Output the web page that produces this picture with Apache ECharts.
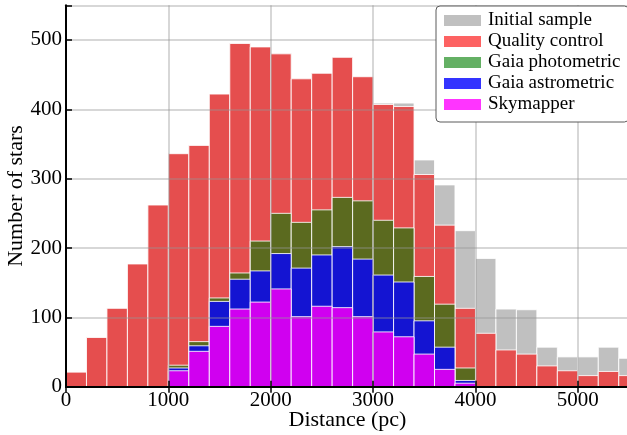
<!DOCTYPE html>
<html>
<head>
<meta charset="utf-8">
<script src="https://cdn.jsdelivr.net/npm/echarts@6/dist/echarts.min.js"></script>
<style>
  html, body { margin: 0; padding: 0; background: #fff; }
  #chart { width: 627px; height: 435px; }
</style>
</head>
<body>
<div id="chart"></div>
<script>
// Histogram bins: left edges (pc), all 200 pc wide
const binStart = [0, 200, 400, 600, 800, 1000, 1200, 1400, 1600, 1800,
                  2000, 2200, 2400, 2600, 2800, 3000, 3200, 3400, 3600, 3800,
                  4000, 4200, 4400, 4600, 4800, 5000, 5200, 5400];
const binWidth = 200;

// Star counts per bin for each selection stage
const initialSample = [21, 71, 113, 177, 262, 336, 348, 422, 495, 490,
                       480, 444, 452, 475, 447, 409, 409, 327, 291, 225,
                       185, 112, 111, 57, 43, 43, 57, 41];
const qualityControl = [21, 71, 113, 177, 262, 336, 348, 422, 495, 490,
                        480, 444, 452, 475, 447, 407, 404, 306, 233, 113,
                        77, 53, 47, 30, 23, 16, 22, 16];
const gaiaPhotometric = [0, 0, 0, 0, 0, 31, 65, 128, 164, 210,
                         250, 237, 255, 273, 268, 240, 229, 159, 119, 27,
                         0, 0, 0, 0, 0, 0, 0, 0];
const gaiaAstrometric = [0, 0, 0, 0, 0, 27, 59, 123, 155, 167,
                         192, 171, 190, 202, 184, 161, 151, 95, 57, 9,
                         0, 0, 0, 0, 0, 0, 0, 0];
const skymapper = [0, 0, 0, 0, 0, 23, 51, 87, 112, 122,
                   141, 101, 116, 114, 101, 79, 72, 47, 25, 5,
                   0, 0, 0, 0, 0, 0, 0, 0];

const xTicks = [0, 1000, 2000, 3000, 4000, 5000];
const yTicks = [0, 100, 200, 300, 400, 500];

const serif = "'Liberation Serif', 'Times New Roman', serif";

function toBins(counts) {
  const out = [];
  counts.forEach((c, i) => {
    if (c > 0) out.push([binStart[i], binStart[i] + binWidth, c]);
  });
  return out;
}

function renderBar(params, api) {
  const top = api.coord([api.value(0), api.value(2)]);
  const bottom = api.coord([api.value(1), 0]);
  return {
    type: 'rect',
    shape: { x: top[0], y: top[1], width: bottom[0] - top[0], height: bottom[1] - top[1] },
    style: { fill: api.visual('color'), stroke: 'rgba(255,255,255,0.85)', lineWidth: 1 }
  };
}

const stages = [
  { name: 'Initial sample',   values: initialSample,   bar: '#c0c0c0', key: '#c0c0c0' },
  { name: 'Quality control',  values: qualityControl,  bar: '#e54e4e', key: '#fd6262' },
  { name: 'Gaia photometric', values: gaiaPhotometric, bar: '#5b6a1f', key: '#64b064' },
  { name: 'Gaia astrometric', values: gaiaAstrometric, bar: '#1414d2', key: '#3434ff' },
  { name: 'Skymapper',        values: skymapper,       bar: '#d000f0', key: '#ff34ff' }
];

const chart = echarts.init(document.getElementById('chart'), null, { renderer: 'canvas' });

const gridColor = 'rgba(150,150,150,0.5)';

chart.setOption({
  animation: false,
  backgroundColor: '#fff',
  grid: { left: 66, top: 5.3, width: 563, height: 381.4, containLabel: false, outerBoundsMode: 'none' },
  xAxis: [
    {
      type: 'value', min: 0, max: 5500, interval: 1000, z: 5,
      name: 'Distance (pc)', nameLocation: 'middle', nameGap: 23, nameMoveOverlap: false,
      nameTextStyle: { fontFamily: serif, fontSize: 22, color: '#000' },
      axisLine: { show: true, onZero: false, lineStyle: { color: '#000', width: 2 } },
      axisTick: { show: true, inside: true, length: 6, lineStyle: { color: '#000', width: 1.5 } },
      axisLabel: {
        fontFamily: serif, fontSize: 21, color: '#000', margin: 3,
        formatter: v => (xTicks.includes(v) ? String(v) : '')
      },
      splitLine: { show: true, lineStyle: { color: gridColor, width: 1.5 } }
    },
    {
      type: 'value', position: 'top', min: 0, max: 5500, interval: 1000, z: 5,
      axisLine: { show: true, lineStyle: { color: '#000', width: 2 } },
      axisTick: { show: true, inside: true, length: 6, lineStyle: { color: '#000', width: 1.5 } },
      axisLabel: { show: false },
      splitLine: { show: false }
    }
  ],
  yAxis: {
    type: 'value', min: 0, max: 550, interval: 100, z: 5,
    name: 'Number of stars', nameLocation: 'middle', nameGap: 39, nameMoveOverlap: false,
    nameTextStyle: { fontFamily: serif, fontSize: 22, color: '#000' },
    axisLine: { show: true, lineStyle: { color: '#000', width: 2 } },
    axisTick: { show: true, inside: true, length: 6, lineStyle: { color: '#000', width: 1.5 } },
    axisLabel: {
      fontFamily: serif, fontSize: 21, color: '#000', margin: 4,
      formatter: v => (yTicks.includes(v) ? String(v) : '')
    },
    splitLine: { show: true, lineStyle: { color: gridColor, width: 1.5 } }
  },
  legend: {
    orient: 'vertical', left: 436, top: 6, z: 10,
    padding: [4, 8, 7, 8], itemGap: 0,
    itemWidth: 37, itemHeight: 11, icon: 'rect',
    backgroundColor: '#fff', borderColor: '#5a5a5a', borderWidth: 1, borderRadius: 4,
    textStyle: { fontFamily: serif, fontSize: 19, color: '#000', lineHeight: 21, padding: [0, 0, 0, 2] },
    data: stages.map(s => ({ name: s.name, itemStyle: { color: s.key } }))
  },
  series: stages.map((s, i) => ({
    type: 'custom',
    name: s.name,
    z: 2 + i * 0.01,
    renderItem: renderBar,
    itemStyle: { color: s.bar },
    encode: { x: [0, 1], y: 2 },
    data: toBins(s.values)
  }))
});
</script>
</body>
</html>
